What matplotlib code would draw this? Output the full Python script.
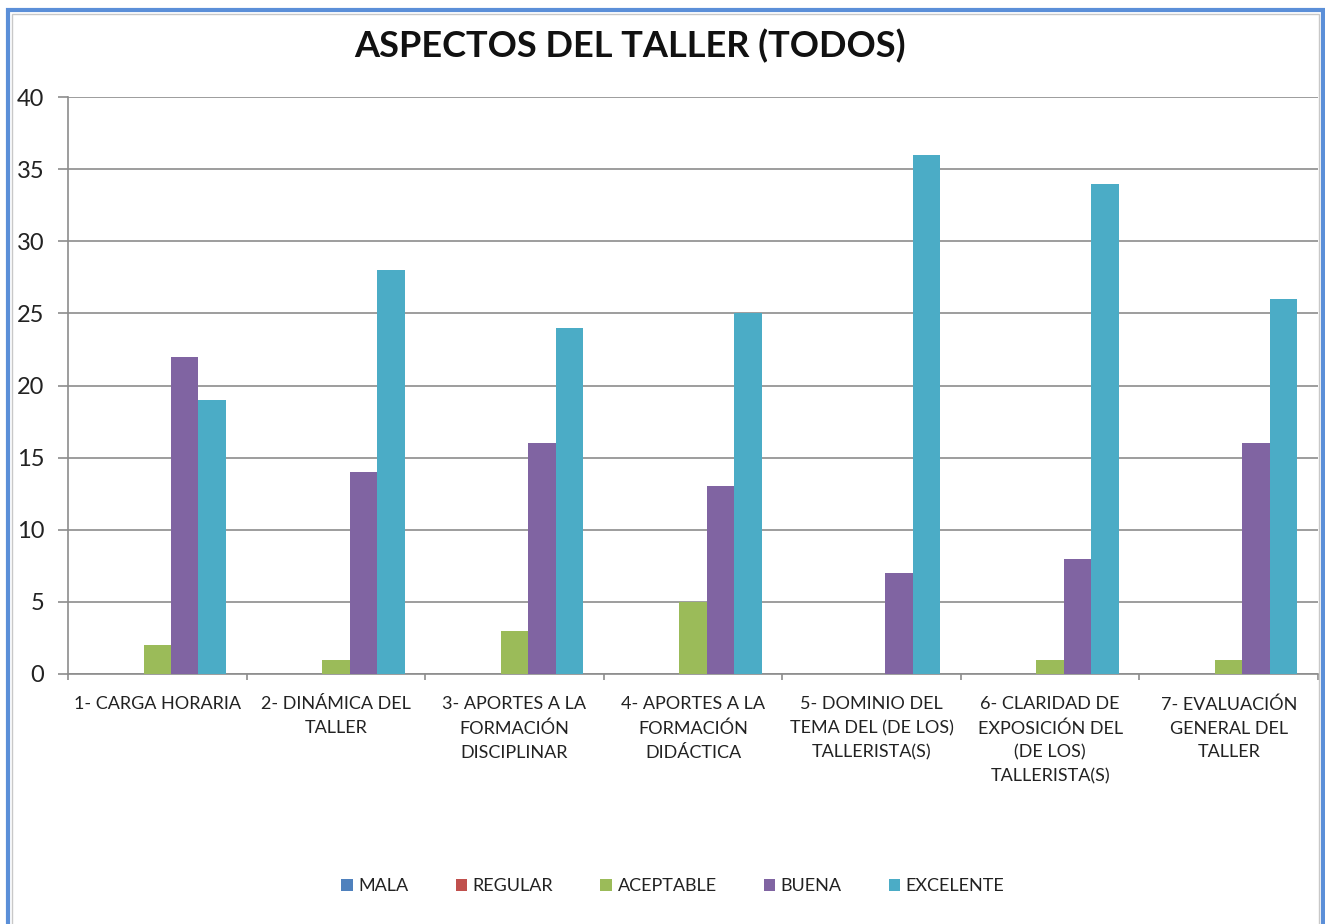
import matplotlib
matplotlib.use("Agg")
import matplotlib.pyplot as plt
import numpy as np
from matplotlib.patches import Rectangle

categories = [
    "1- CARGA HORARIA",
    "2- DINÁMICA DEL\nTALLER",
    "3- APORTES A LA\nFORMACIÓN\nDISCIPLINAR",
    "4- APORTES A LA\nFORMACIÓN\nDIDÁCTICA",
    "5- DOMINIO DEL\nTEMA DEL (DE LOS)\nTALLERISTA(S)",
    "6- CLARIDAD DE\nEXPOSICIÓN DEL\n(DE LOS)\nTALLERISTA(S)",
    "7- EVALUACIÓN\nGENERAL DEL\nTALLER",
]
series_names = ["MALA", "REGULAR", "ACEPTABLE", "BUENA", "EXCELENTE"]
mala = [0, 0, 0, 0, 0, 0, 0]
regular = [0, 0, 0, 0, 0, 0, 0]
aceptable = [2, 1, 3, 5, 0, 1, 1]
buena = [22, 14, 16, 13, 7, 8, 16]
excelente = [19, 28, 24, 25, 36, 34, 26]
yticks = [0, 5, 10, 15, 20, 25, 30, 35, 40]

colors = ["#4F81BD", "#C0504D", "#9BBB59", "#8064A2", "#4BACC6"]
values = [mala, regular, aceptable, buena, excelente]

plt.rcParams['font.family'] = ['Lato', 'DejaVu Sans']

fig = plt.figure(figsize=(13.25, 9.24), dpi=100)
W, H = 1325, 924
ax = fig.add_axes([68 / W, 1 - 674 / H, (1318 - 68) / W, (674 - 97) / H])

x = np.arange(len(categories))
w = 1 / 6.5
for i, (name, vals, c) in enumerate(zip(series_names, values, colors)):
    ax.bar(x + (i - 2) * w, vals, width=w, color=c, label=name, zorder=3)

ax.set_xlim(-0.5, len(categories) - 0.5)
ax.set_ylim(0, 40)
ax.set_yticks(yticks)
ax.set_yticklabels([str(t) for t in yticks], fontsize=17, color="#222222")
ax.grid(axis="y", color="#8c8c8c", linewidth=1.2, zorder=0)
ax.set_axisbelow(True)

ax.set_xticks(x)
ax.set_xticklabels(categories, fontsize=13, color="#222222", linespacing=1.6, va="top")
ax.set_xticks(np.arange(-0.5, len(categories), 1), minor=True)
ax.tick_params(axis="x", which="major", length=0, pad=16)
ax.tick_params(axis="x", which="minor", length=4.5, color="#8c8c8c", width=1.2)
ax.tick_params(axis="y", length=7, color="#8c8c8c", width=1.2, pad=10)

for s in ["top", "right"]:
    ax.spines[s].set_visible(False)
for s in ["left", "bottom"]:
    ax.spines[s].set_color("#8c8c8c")
    ax.spines[s].set_linewidth(1.2)

fig.text(630 / W, 1 - 46 / H, "ASPECTOS DEL TALLER (TODOS)", ha="center", va="center",
         fontsize=26, fontweight="bold", color="#111111")

leg = fig.legend(loc="center", bbox_to_anchor=(673 / W, 1 - 886 / H), ncol=5, frameon=False,
                 fontsize=13, handlelength=0.65, handleheight=0.65, handletextpad=0.3,
                 columnspacing=2.6)
for t in leg.get_texts():
    t.set_color("#222222")

# Blue outer border with thin grey inner line
fig.patches.append(Rectangle((8 / W, -0.05), (1315 / W), 1.05 - 10 / H,
                             transform=fig.transFigure, fill=False,
                             edgecolor="#5B8FD8", linewidth=3, zorder=10))
fig.patches.append(Rectangle((12 / W, -0.05), (1307 / W), 1.05 - 14 / H,
                             transform=fig.transFigure, fill=False,
                             edgecolor="#c8c8c8", linewidth=1, zorder=10))

fig.savefig("out.png", dpi=100)
